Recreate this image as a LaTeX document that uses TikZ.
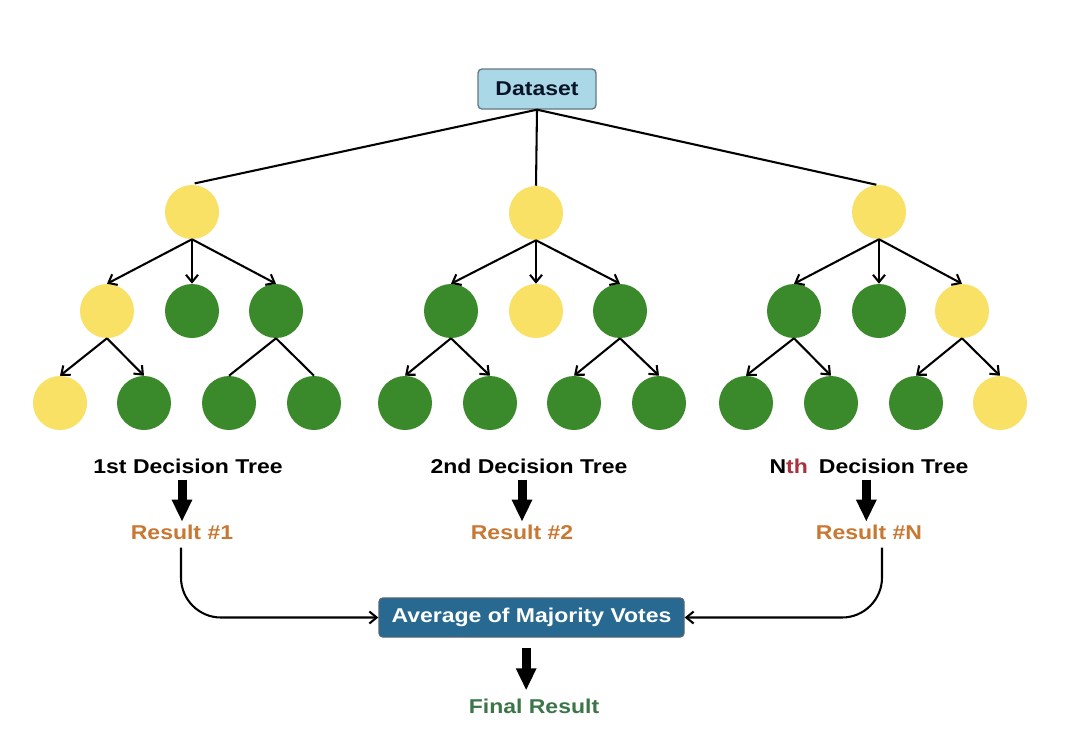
\documentclass[tikz,border=0pt]{standalone}
\usepackage{fontspec}
\setmainfont{Liberation Sans}[FakeStretch=1.15]
\usetikzlibrary{arrows.meta}
\definecolor{yel}{RGB}{248,225,100}
\definecolor{grn}{RGB}{58,137,42}
\definecolor{dsfill}{RGB}{170,216,230}
\definecolor{dsdraw}{RGB}{100,120,130}
\definecolor{avfill}{RGB}{40,105,145}
\definecolor{avdraw}{RGB}{80,100,115}
\definecolor{resc}{RGB}{200,120,50}
\definecolor{finc}{RGB}{60,118,72}
\definecolor{thc}{RGB}{170,50,60}
\definecolor{dstext}{RGB}{10,20,40}
\begin{document}
\begin{tikzpicture}[x=0.75pt,y=-0.75pt,
  every node/.style={font=\fontsize{15}{18}\selectfont\bfseries},
  ynode/.style={circle,fill=yel,minimum size=40.5pt,inner sep=0pt},
  gnode/.style={circle,fill=grn,minimum size=40.5pt,inner sep=0pt},
  treearrow/.style={line width=1.55pt,-{Straight Barb[length=5.5pt,width=9pt]}},
  treeline/.style={line width=1.55pt},
  lbl/.style={inner sep=0pt},
  res/.style={inner sep=0pt,text=resc},
  bigarrow/.style={line width=6.75pt,-{Triangle[length=16.5pt,width=14.25pt]}}]
\useasboundingbox (0,0) rectangle (1080,740);
\fill[white] (0,0) rectangle (1080,740);

% Dataset
\node[draw=dsdraw,fill=dsfill,rounded corners=3pt,line width=1pt,
      minimum width=88.5pt,minimum height=30pt,text=dstext] (ds) at (537,89) {Dataset};

% Tree 1
\node[ynode] (r1) at (192,212) {};
\node[ynode] (a1) at (107,311) {};
\node[gnode] (b1) at (192,311) {};
\node[gnode] (c1) at (276,311) {};
\node[ynode] (a1l) at (60,403) {};
\node[gnode] (a1r) at (144,403) {};
\node[gnode] (c1l) at (229,403) {};
\node[gnode] (c1r) at (314,403) {};
% Tree 2
\node[ynode] (r2) at (536,213) {};
\node[gnode] (a2) at (451,311) {};
\node[ynode] (b2) at (536,311) {};
\node[gnode] (c2) at (620,311) {};
\node[gnode] (a2l) at (405,403) {};
\node[gnode] (a2r) at (490,403) {};
\node[gnode] (c2l) at (574,403) {};
\node[gnode] (c2r) at (659,403) {};
% Tree 3
\node[ynode] (r3) at (879,212) {};
\node[gnode] (a3) at (794,311) {};
\node[gnode] (b3) at (879,311) {};
\node[ynode] (c3) at (962,311) {};
\node[gnode] (a3l) at (746,403) {};
\node[gnode] (a3r) at (831,403) {};
\node[gnode] (c3l) at (916,403) {};
\node[ynode] (c3r) at (1000,403) {};

% Dataset lines
\draw[treeline] (ds.south) -- ([xshift=2pt,yshift=1pt]r1.north);
\draw[treeline] (ds.south) -- (r2.north);
\draw[treeline] (ds.south) -- ([xshift=-2pt]r3.north);

% Tree edges
\foreach \t in {1,2,3}{
  \draw[treearrow] (r\t.south) -- (a\t.north);
  \draw[treearrow] (r\t.south) -- (b\t.north);
  \draw[treearrow] (r\t.south) -- (c\t.north);
  \draw[treearrow] (a\t.south) -- (a\t l.north);
  \draw[treearrow] (a\t.south) -- (a\t r.north);
}
\draw[treeline] (c1.south) -- (c1l.north);
\draw[treeline] (c1.south) -- (c1r.north);
\draw[treearrow] (c2.south) -- (c2l.north);
\draw[treearrow] (c2.south) -- (c2r.north);
\draw[treearrow] (c3.south) -- (c3l.north);
\draw[treearrow] (c3.south) -- (c3r.north);

% Labels
\node[lbl] (t1) at (188,466) {1st Decision Tree};
\node[lbl] (t2) at (529,466) {2nd Decision Tree};
\node[lbl] (t3) at (869,466) {N\textcolor{thc}{th}\hspace{0.556em}Decision Tree};

\node[res] (res1) at (182,532) {Result \#1};
\node[res] (res2) at (522,532) {Result \#2};
\node[res] (res3) at (869,532) {Result \#N};

\draw[bigarrow,shorten <=4.5pt,shorten >=2pt] (t1.south -| res1.north) -- (res1.north);
\draw[bigarrow,shorten <=4.5pt,shorten >=2pt] (t2.south -| res2.north) -- (res2.north);
\draw[bigarrow,shorten <=4.5pt,shorten >=2pt] ([xshift=-2pt]t3.south) -- ([xshift=-2pt]res3.north);

% Average box
\node[draw=avdraw,fill=avfill,text=white,rounded corners=3pt,line width=1pt,
      minimum width=228.75pt,minimum height=29.25pt] (avg) at (531.5,617.5) {Average of Majority Votes};

\draw[treearrow,rounded corners=30pt] ([xshift=-0.75pt,yshift=-6pt]res1.south) |- (avg.west);
\draw[treearrow,rounded corners=30pt] ([xshift=9.75pt,yshift=-6pt]res3.south) |- (avg.east);

% Final
\node[inner sep=0pt,text=finc] (fin) at (534,706) {Final Result};
\draw[bigarrow,shorten <=8pt,shorten >=6pt] ([xshift=-4pt]avg.south) -- ([xshift=-4pt]avg.south |- fin.north);
\end{tikzpicture}
\end{document}
